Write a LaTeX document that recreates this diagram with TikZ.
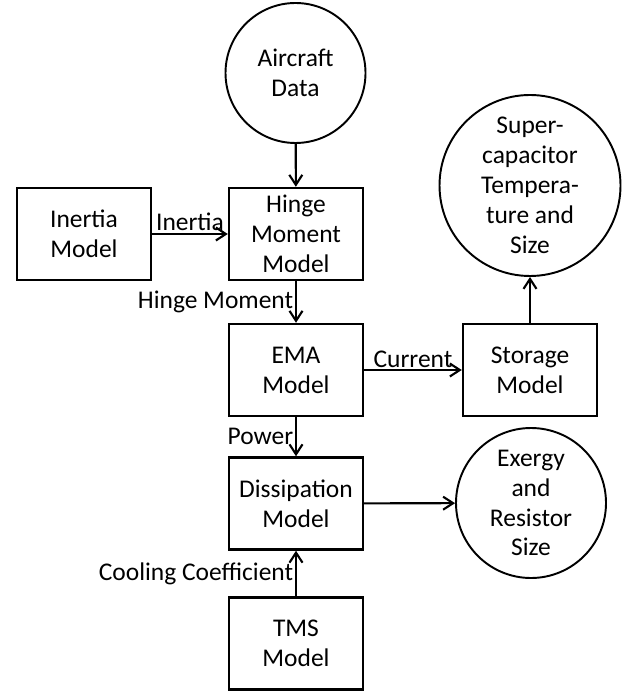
\documentclass[tikz,border=0pt]{standalone}
\usepackage{fontspec}
\setmainfont{Carlito}
\usepackage{tikz}
\usetikzlibrary{shapes, arrows.meta, positioning}

\begin{document}
\begin{tikzpicture}[
  modelbox/.style={draw, line width=1.4pt, minimum width=2.68cm, minimum height=1.84cm, align=center, inner sep=0pt, font=\fontsize{14.5}{17}\selectfont},
  resultcircle/.style={draw, circle, line width=1.1pt, align=center, inner sep=0pt, font=\fontsize{14.5}{17}\selectfont},
  flow/.style={-{Straight Barb[length=2mm, width=2.6mm]}, line width=1.2pt},
  flowlabel/.style={font=\fontsize{14.5}{17}\selectfont, inner sep=1pt}
]
  \useasboundingbox (0, 0) rectangle (12.56, -13.84);

  % Inputs
  \node[resultcircle, minimum size=2.8cm] (aircraft) at (5.91, -1.46) {Aircraft\\Data};
  \node[modelbox] (inertia) at (1.68, -4.68) {Inertia\\Model};

  % Model chain
  \node[modelbox] (hinge) at (5.92, -4.68) {Hinge\\Moment\\Model};
  \node[modelbox] (ema) at (5.92, -7.4) {EMA\\Model};
  \node[modelbox] (dissip) at (5.92, -10.07) {Dissipation\\Model};
  \node[modelbox] (tms) at (5.92, -12.87) {TMS\\Model};
  \node[modelbox] (storage) at (10.6, -7.4) {Storage\\Model};

  % Outputs
  \node[resultcircle, minimum size=3.62cm] (supercap) at (10.6, -3.71) {Super-\\capacitor\\Tempera-\\ture and\\Size};
  \node[resultcircle, minimum size=3.0cm] (exergy) at (10.62, -10.06) {Exergy\\and\\Resistor\\Size};

  % Arrows
  \draw[flow] (aircraft) -- (hinge);
  \draw[flow] (inertia) -- node[flowlabel, above] {Inertia} (hinge);
  \draw[flow] (hinge) -- node[flowlabel, left] {Hinge Moment} (ema);
  \draw[flow] (ema) -- node[flowlabel, above] {Current} (storage);
  \draw[flow] (storage) -- (supercap);
  \draw[flow] (ema) -- node[flowlabel, left] {Power} (dissip);
  \draw[flow] (dissip) -- (exergy);
  \draw[flow] (tms) -- node[flowlabel, left] {Cooling Coefficient} (dissip);
\end{tikzpicture}
\end{document}
